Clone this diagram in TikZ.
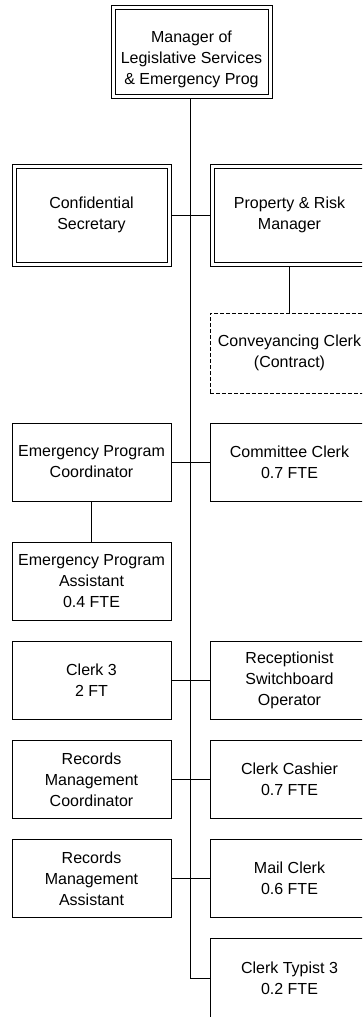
\documentclass[tikz,border=0pt]{standalone}
\usepackage{fontspec}
\setmainfont{Liberation Sans}
\begin{document}
\begin{tikzpicture}[x=1pt,y=-1pt,
  every node/.style={font=\fontsize{16}{21}\selectfont, align=center, inner sep=0pt},
  unit/.style={draw, line width=0.8pt, minimum width=159pt, minimum height=78pt},
  dbl/.style={draw, line width=0.7pt},
  frame/.style={line width=0.7pt},
  vac/.style={draw, dash pattern=on 4pt off 2pt, line width=0.8pt, minimum width=159pt, minimum height=80pt},
  link/.style={line width=0.8pt}]
\useasboundingbox (0,0) rectangle (362,1017);
\clip (0,0) rectangle (362,1017);

% head of the department
\node[dbl, minimum width=161pt, minimum height=93pt] (mgr) at (191.5,51.5)
  {\rule{0pt}{28pt}Manager of\\Legislative Services\\\& Emergency Prog};

% senior staff
\node[dbl, minimum width=159pt, minimum height=102pt] (conf) at (91.5,215) {Confidential\\Secretary};
\node[dbl, minimum width=159pt, minimum height=102pt] (prop) at (289.5,215) {Property \& Risk\\Manager};
\node[vac] (conv) at (289.5,353) {Conveyancing Clerk\\(Contract)};

% inner rules of the double frames
\foreach \n in {mgr,conf,prop}
  \draw[frame] ([shift={(4.3,4.3)}]\n.north west) rectangle ([shift={(-4.3,-4.3)}]\n.south east);

% left column
\node[unit] (epc) at (91.5,462) {Emergency Program\\Coordinator};
\node[unit] (epa) at (91.5,581.5) {Emergency Program\\Assistant\\0.4 FTE};
\node[unit] (clk) at (91.5,680.5) {Clerk 3\\2 FT};
\node[unit] (rmc) at (91.5,779.5) {Records\\Management\\Coordinator};
\node[unit] (rma) at (91.5,878.5) {Records\\Management\\Assistant};

% right column
\node[unit] (com) at (289.5,462) {Committee Clerk\\0.7 FTE};
\node[unit] (rec) at (289.5,680.5) {Receptionist\\Switchboard\\Operator};
\node[unit] (cas) at (289.5,779.5) {Clerk Cashier\\0.7 FTE};
\node[unit] (mail) at (289.5,878.5) {Mail Clerk\\0.6 FTE};
\node[unit, minimum height=80pt] (typ) at (289.5,978) {Clerk Typist 3\\0.2 FTE};

% reporting lines
\coordinate (top) at (190.5,0);
\draw[link] (mgr.south -| top) -- (typ.west -| top) -- (typ.west);
\draw[link] (conf.east) -- (prop.west);
\draw[link] (prop.south) -- (conv.north);
\draw[link] (epc.east) -- (com.west);
\draw[link] (epc.south) -- (epa.north);
\draw[link] (clk.east) -- (rec.west);
\draw[link] (rmc.east) -- (cas.west);
\draw[link] (rma.east) -- (mail.west);
\end{tikzpicture}
\end{document}
